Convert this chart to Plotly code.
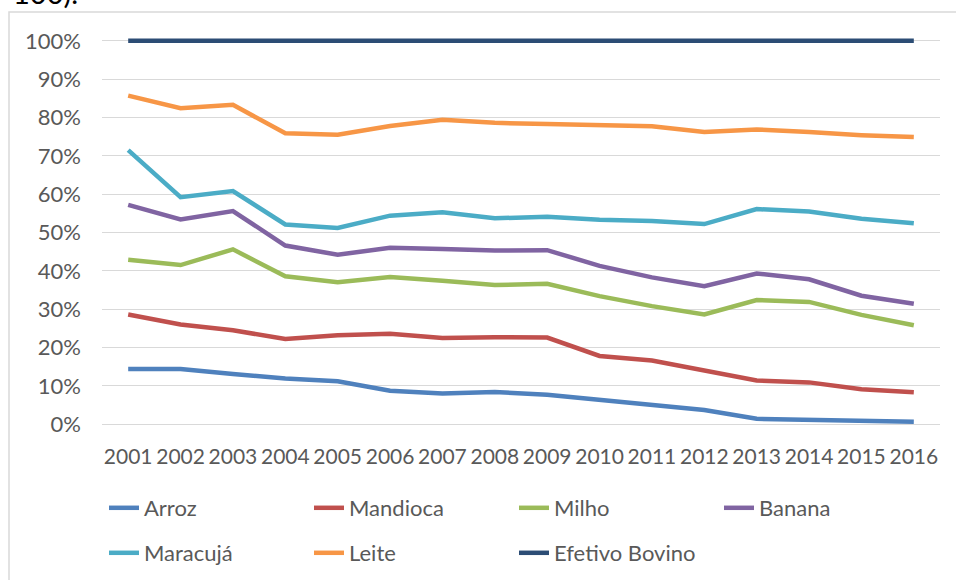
import plotly.graph_objects as go

# Years on the category axis
years = [str(y) for y in range(2001, 2017)]

# Share of each product (fraction of 1)
arroz = [0.144, 0.144, 0.131, 0.119, 0.112, 0.087, 0.080, 0.084, 0.077, 0.063,
         0.050, 0.037, 0.014, 0.011, 0.007, 0.006]
mandioca = [0.286, 0.260, 0.245, 0.222, 0.232, 0.236, 0.225, 0.227, 0.226, 0.178,
            0.166, 0.141, 0.114, 0.109, 0.091, 0.083]
milho = [0.429, 0.415, 0.456, 0.386, 0.370, 0.384, 0.374, 0.363, 0.366, 0.334,
         0.308, 0.286, 0.324, 0.319, 0.285, 0.258]
banana = [0.572, 0.534, 0.556, 0.466, 0.442, 0.460, 0.457, 0.453, 0.454, 0.413,
          0.383, 0.360, 0.393, 0.378, 0.335, 0.314]
maracuja = [0.715, 0.592, 0.608, 0.521, 0.512, 0.544, 0.553, 0.537, 0.541, 0.533,
            0.530, 0.522, 0.561, 0.555, 0.536, 0.524]
leite = [0.857, 0.824, 0.833, 0.759, 0.755, 0.778, 0.794, 0.786, 0.783, 0.780,
         0.777, 0.762, 0.769, 0.762, 0.754, 0.749]
efetivo_bovino = [1.0] * 16

series_names = ["Arroz", "Mandioca", "Milho", "Banana", "Maracujá", "Leite", "Efetivo Bovino"]
series_values = [arroz, mandioca, milho, banana, maracuja, leite, efetivo_bovino]
series_colors = ["#4F81BD", "#C0504D", "#9BBB59", "#8064A2", "#4BACC6", "#F79646", "#2C4D75"]
series_legend = ["legend", "legend", "legend", "legend", "legend2", "legend2", "legend2"]

FONT = "Lato"
TEXT_GRAY = "#595959"

fig = go.Figure()
for name, vals, color, lg in zip(series_names, series_values, series_colors, series_legend):
    fig.add_trace(go.Scatter(
        x=years, y=vals, name=name, mode="lines",
        line=dict(color=color, width=4.5),
        legend=lg,
    ))

W, H = 956, 580
m_l, m_r, m_t, m_b = 102, 16, 37, 152
plot_w = W - m_l - m_r
plot_h = H - m_t - m_b

def px_x(p):
    return (p - m_l) / plot_w

def px_y(p):
    return (H - m_b - p) / plot_h

legend_common = dict(
    orientation="h",
    xref="container", yref="container",
    xanchor="left", yanchor="middle",
    font=dict(family=FONT, size=22, color=TEXT_GRAY),
    entrywidth=160, entrywidthmode="pixels",
    bgcolor="rgba(0,0,0,0)",
    itemclick=False, itemdoubleclick=False,
)

fig.update_layout(
    width=W, height=H,
    margin=dict(l=m_l, r=m_r, t=m_t, b=m_b, pad=0, autoexpand=False),
    paper_bgcolor="white", plot_bgcolor="white",
    font=dict(family=FONT, size=22, color=TEXT_GRAY),
    showlegend=True,
    legend=dict(x=104 / W, y=(H - 508) / H, **legend_common),
    legend2=dict(x=104 / W, y=(H - 553) / H, **legend_common),
    xaxis=dict(
        type="category", range=[-0.5, 15.5],
        showgrid=False, zeroline=False, showline=False,
        ticks="", ticklabelstandoff=14, tickangle=0, automargin=False,
        tickfont=dict(family=FONT, size=21, color=TEXT_GRAY),
    ),
    yaxis=dict(
        range=[-0.01, 1.01],
        tickvals=[i / 10 for i in range(11)],
        tickformat=".0%",
        showgrid=True, gridcolor="#D9D9D9", gridwidth=1.3,
        zeroline=False, showline=False, automargin=False,
        ticks="", ticklabelstandoff=20,
        tickfont=dict(family=FONT, size=22, color=TEXT_GRAY),
    ),
    shapes=[dict(
        type="rect", xref="paper", yref="paper",
        x0=px_x(9), x1=px_x(962), y0=px_y(590), y1=px_y(12),
        line=dict(color="#D9D9D9", width=1.5), fillcolor="rgba(0,0,0,0)",
        layer="below",
    )],
    annotations=[dict(
        text="100).", xref="paper", yref="paper",
        x=px_x(11), y=px_y(12), xanchor="left", yanchor="bottom",
        showarrow=False, font=dict(family=FONT, size=29, color="#000000"),
    )],
)

fig.write_html("out.html")
